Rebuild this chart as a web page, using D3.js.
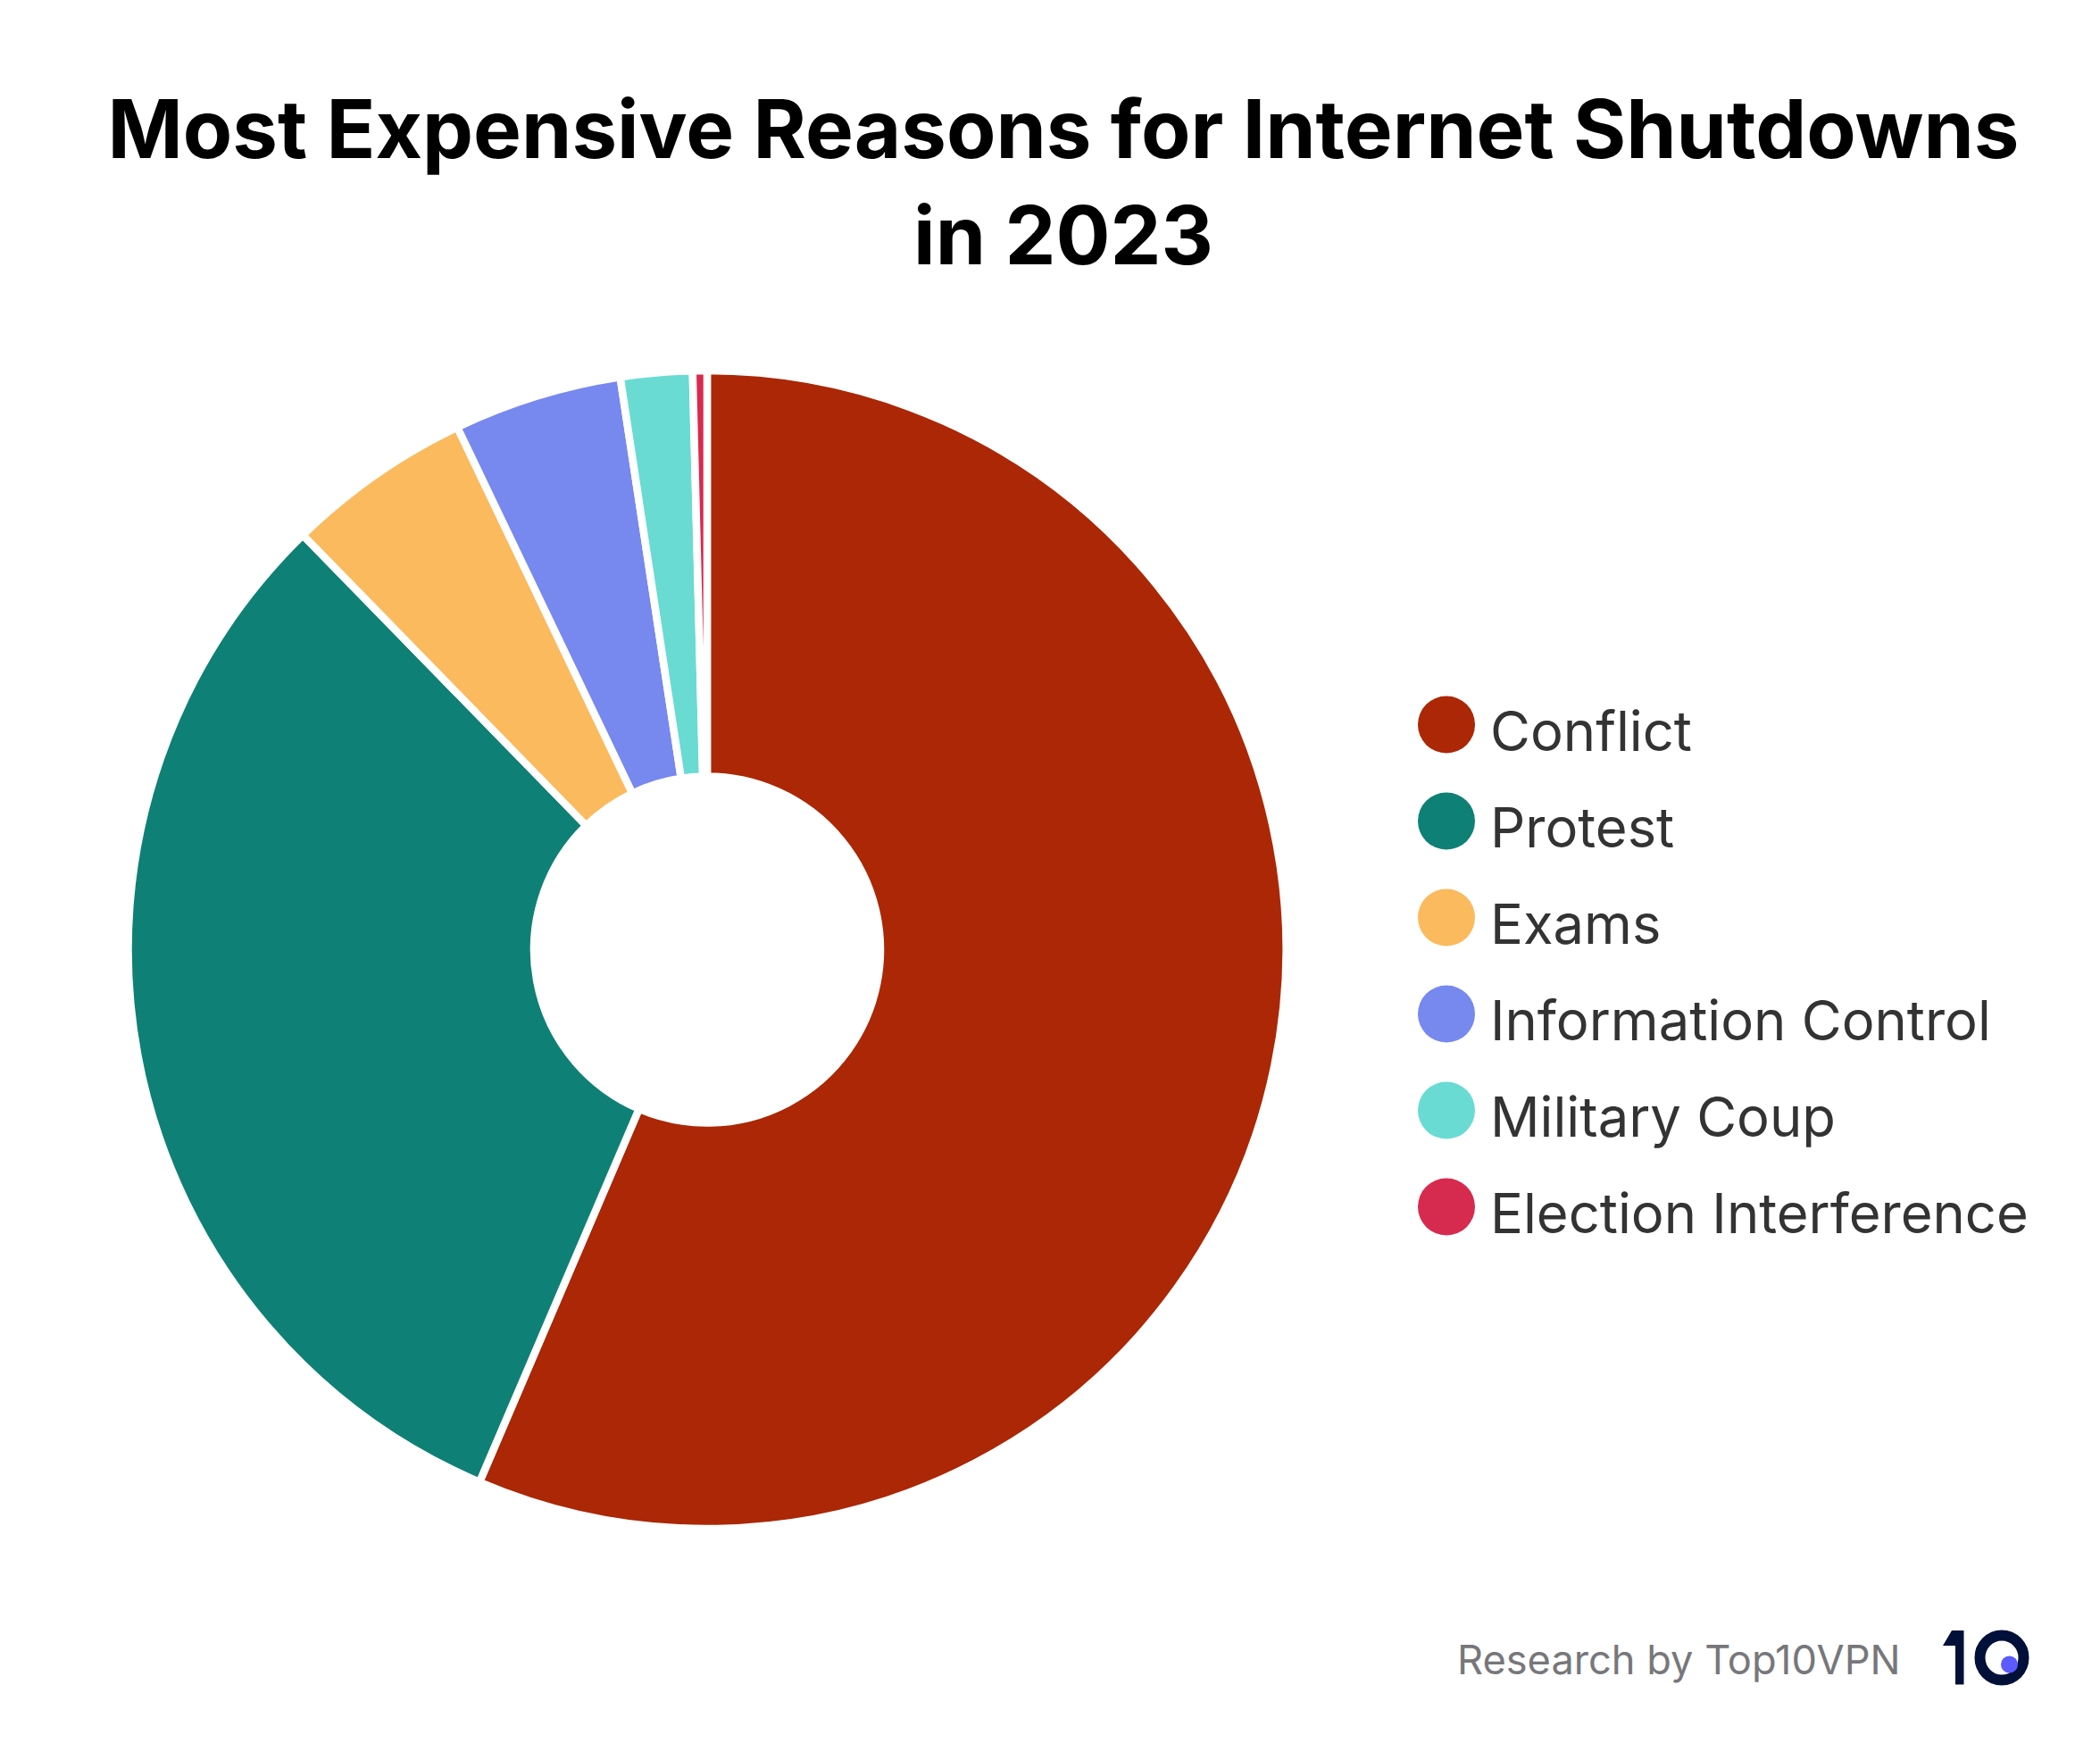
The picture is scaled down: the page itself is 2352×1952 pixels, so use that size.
<!DOCTYPE html>
<html>
<head>
<meta charset="utf-8">
<script src="https://cdn.jsdelivr.net/npm/d3@7"></script>
<style>
  html, body { margin: 0; padding: 0; background: #fff; }
  svg { display: block; }
  text { font-family: Inter, sans-serif; }
</style>
</head>
<body>
<svg id="chart" width="2352" height="1952"></svg>
<script>
const titleLines = ['Most Expensive Reasons for Internet Shutdowns', 'in 2023'];
const reasons = ['Conflict', 'Protest', 'Exams', 'Information Control', 'Military Coup', 'Election Interference'];
const shares = [56.43, 31.27, 5.2, 4.7, 2.0, 0.4];
const colors = ['#ab2705', '#0f8075', '#fbba5e', '#7788ef', '#69dbd3', '#d62b4f'];
const credit = 'Research by Top10VPN';

const svg = d3.select('#chart');

svg.selectAll('.title')
  .data(titleLines)
  .join('text')
  .attr('class', 'title')
  .attr('x', 1191)
  .attr('y', (d, i) => 177 + i * 119)
  .attr('text-anchor', 'middle')
  .attr('font-size', 90.5)
  .attr('font-weight', 700)
  .attr('fill', '#000')
  .text((d) => d);

// donut, clockwise from 12 o'clock in the given order
const pie = d3.pie().sort(null).value((d) => d);
const arc = d3.arc().innerRadius(194).outerRadius(648.5);

svg.append('g')
  .attr('transform', 'translate(792,1063.5)')
  .selectAll('path')
  .data(pie(shares))
  .join('path')
  .attr('d', arc)
  .attr('fill', (d, i) => colors[i])
  .attr('stroke', '#fff')
  .attr('stroke-width', 8.5);

const rowY = d3.scalePoint().domain(reasons).range([811.5, 1351.5]);

const legend = svg.append('g')
  .selectAll('g')
  .data(reasons)
  .join('g')
  .attr('transform', (d) => `translate(1620,${rowY(d)})`);

legend.append('circle')
  .attr('r', 32)
  .attr('fill', (d, i) => colors[i]);

legend.append('text')
  .attr('x', 49)
  .attr('y', 29)
  .attr('font-size', 61.5)
  .attr('fill', '#333')
  .text((d) => d);

svg.append('text')
  .attr('x', 1632)
  .attr('y', 1874.5)
  .attr('font-size', 45.2)
  .attr('fill', '#77777b')
  .text(credit);

// logo
const logo = svg.append('g');
logo.append('path')
  .attr('d', 'M2186,1826H2199.5V1886.6H2190V1843H2176Z')
  .attr('fill', '#001038');
logo.append('ellipse')
  .attr('cx', 2242).attr('cy', 1856.5)
  .attr('rx', 24.5).attr('ry', 25)
  .attr('fill', 'none')
  .attr('stroke', '#001038')
  .attr('stroke-width', 12);
logo.append('circle')
  .attr('cx', 2250.5).attr('cy', 1864).attr('r', 9.5)
  .attr('fill', '#5b5bff');
</script>
</body>
</html>
